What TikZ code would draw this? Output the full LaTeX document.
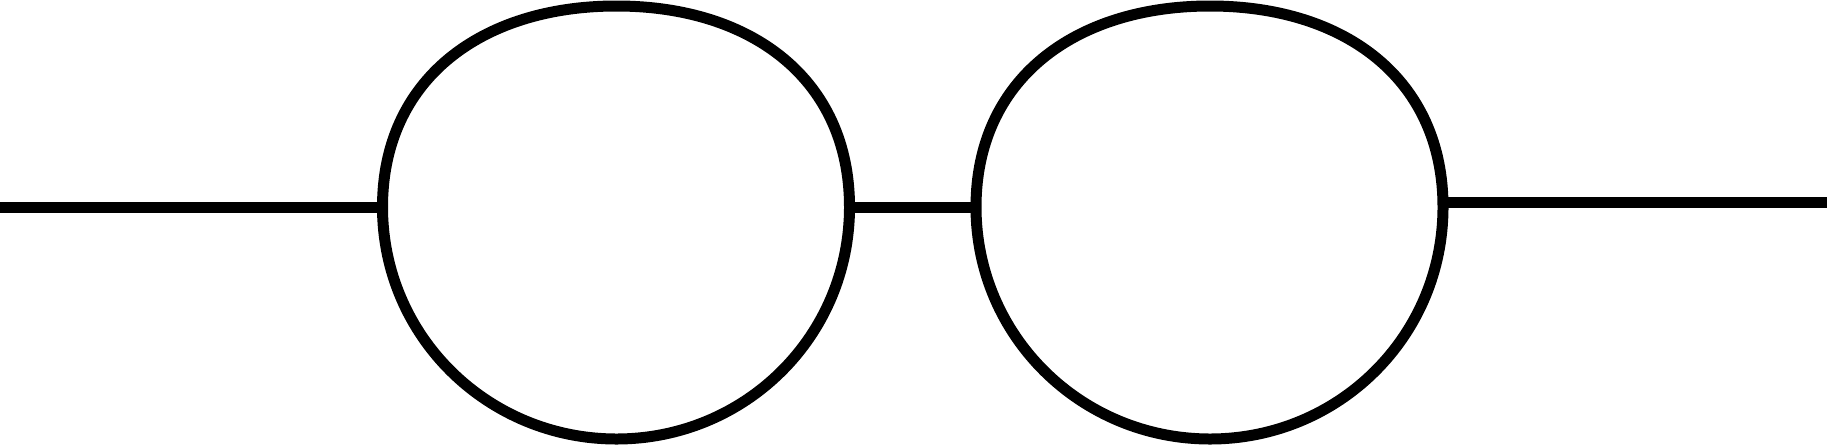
\documentclass[tikz,border=0pt]{standalone}
\begin{document}
\begin{tikzpicture}[x=1pt,y=-1pt,
  rim/.style={line width=11pt,draw=black},
  bar/.style={line width=11pt,draw=black},
  lens/.pic={
    \draw[rim] (0,207) .. controls (0,80) and (98,6) .. (234,6)
      .. controls (370,6) and (467,80) .. (467,207)
      .. controls (467,336) and (363,439) .. (234,439)
      .. controls (105,439) and (0,336) .. (0,207) -- cycle;
  }]
\useasboundingbox (0,0) rectangle (1827,445);
\pic at (382.5,0) {lens};
\pic at (976,0) {lens};
\coordinate (l0) at (0,207);
\coordinate (l1) at (382.5,207);
\coordinate (b0) at (849.5,207);
\coordinate (b1) at (976,207);
\coordinate (r0) at (1443,202.5);
\coordinate (r1) at (1827,202.5);
\draw[bar] (l0) -- (l1);
\draw[bar] (b0) -- (b1);
\draw[bar] (r0) -- (r1);
\end{tikzpicture}
\end{document}
